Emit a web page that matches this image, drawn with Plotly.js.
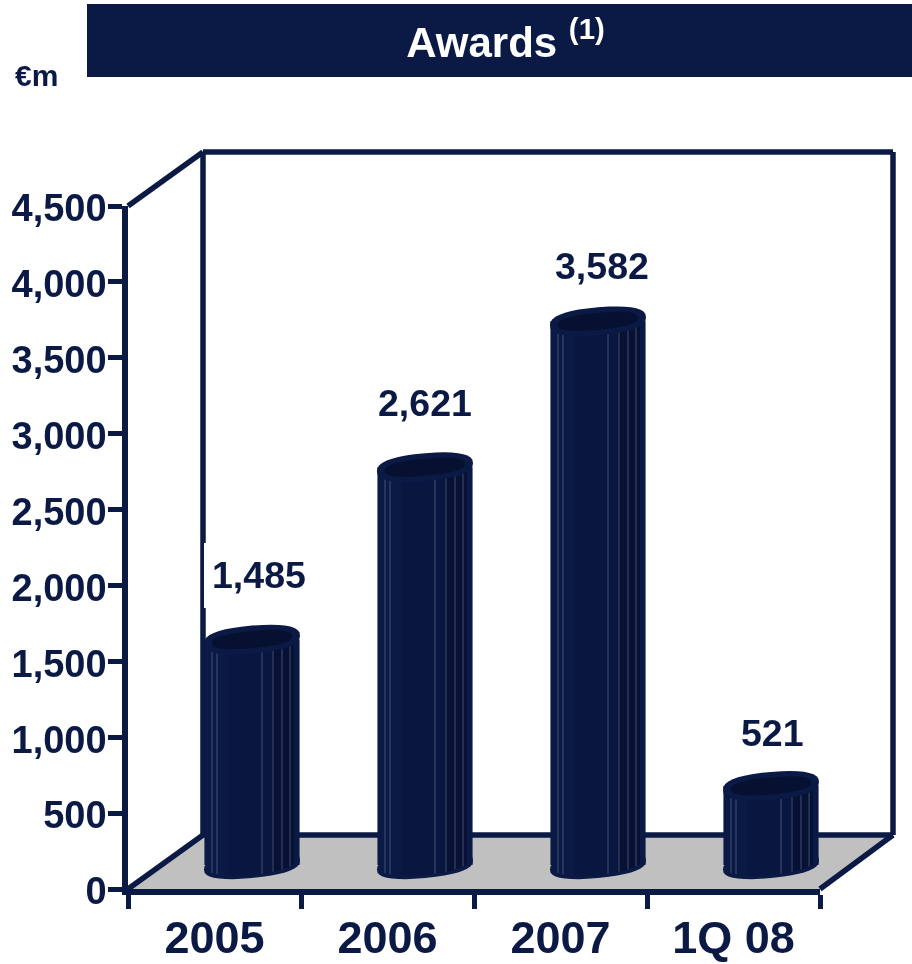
<!DOCTYPE html>
<html><head><meta charset="utf-8">
<script src="https://cdn.plot.ly/plotly-3.0.1.min.js"></script>
<style>html,body{margin:0;padding:0;background:#fff}</style></head>
<body><div id="chart" style="width:912px;height:964px"></div>
<script>
const categories = ["2005", "2006", "2007", "1Q 08"];
const awards = [1485, 2621, 3582, 521];
const valueLabels = ["1,485", "2,621", "3,582", "521"];
const yTicks = [0, 500, 1000, 1500, 2000, 2500, 3000, 3500, 4000, 4500];
const yTickLabels = ["0", "500", "1,000", "1,500", "2,000", "2,500", "3,000", "3,500", "4,000", "4,500"];
const labelShiftX = [7, 0, 4, 1];
const labelShiftY = [65, 64, 55, 53];

const W = 912, H = 964, NAVY = "#0a1a45", DARK = "#061030", FONT = "Liberation Sans, Arial, sans-serif";
const fx = { l: 128, r: 820 }, fy = { b: 889, t: 206 };   // front plane
const bx = { l: 203, r: 893 }, by = { b: 835, t: 152 };   // back wall
const off = { x: 37.5, y: 24 };                            // depth of the cylinders
const LOW = -200;                                          // room under the cylinders for their round feet
const px = x => x / W, py = y => 1 - y / H;
const uX = (fx.r - fx.l) / categories.length, uY = (fy.b - fy.t) / 4500;
const idx = categories.map((_, i) => i);

function line(x0, y0, x1, y1) {
  return { type: "line", xref: "paper", yref: "paper", layer: "below", x0: px(x0), y0: py(y0), x1: px(x1), y1: py(y1),
    line: { color: NAVY, width: 5.5 } };
}
const shapes = [
  { type: "rect", xref: "paper", yref: "paper", layer: "below", x0: px(87), x1: 1, y0: py(77), y1: py(4), fillcolor: NAVY, line: { width: 0 } },
  { type: "path", xref: "paper", yref: "paper", layer: "below", fillcolor: "#c0c0c0", line: { width: 0 },
    path: `M${px(fx.l)},${py(fy.b)} L${px(bx.l)},${py(by.b)} L${px(bx.r)},${py(by.b)} L${px(fx.r)},${py(fy.b)} Z` },
  line(bx.l, by.t, bx.l, by.b), line(bx.l, by.t, bx.r, by.t), line(bx.r, by.t, bx.r, by.b), line(bx.l, by.b, bx.r, by.b),
  line(fx.l, fy.t, bx.l, by.t), line(fx.l, fy.b, bx.l, by.b), line(fx.r, fy.b, bx.r, by.b),
  { type: "rect", xref: "paper", yref: "paper", layer: "below", x0: px(204), x1: px(207), y0: py(608), y1: py(543), fillcolor: "#fff", line: { width: 0 } }
];

// cap outlines are built in data units from each bar's own category and value
const round = (c, e) => Math.sign(c) * Math.pow(Math.abs(c), e);
function ellipse(i, v, a, b, tilt) {
  let s = "";
  for (let k = 0; k < 36; k++) {
    const t = 2 * Math.PI * k / 36, c = round(Math.cos(t), 0.85), n = round(Math.sin(t), 0.8);
    const dx = a * c, dy = b * n - tilt * c;
    s += (k ? "L" : "M") + (i + dx / uX) + "," + (v - dy / uY) + " ";
  }
  return s + "Z";
}
function edgeY(d, a, b, tilt) {             // lower edge of the cap at offset d
  const c = Math.max(-1, Math.min(1, d / a));
  return Math.pow(1 - c * c, 0.5) * b - tilt * c;
}
function band(i, v, d0, d1) {
  let s = "", n = 8;
  for (let k = 0; k <= n; k++) { const d = d0 + (d1 - d0) * k / n;
    s += (k ? "L" : "M") + (i + d / uX) + "," + (v - (edgeY(d, 48, 14, 4.5) - 3) / uY) + " "; }
  for (let k = n; k >= 0; k--) { const d = d0 + (d1 - d0) * k / n;
    s += "L" + (i + d / uX) + "," + (0 - (edgeY(d, 48, 13, 4.5) - 3) / uY) + " "; }
  return s + "Z";
}
const stripes = [-40, -35, 10, 21, 30, 38];
idx.forEach(i => {
  const v = awards[i];
  const shape = (path, fill) => ({ type: "path", xref: "x2", yref: "y2", layer: "above", path, fillcolor: fill, line: { width: 0 } });
  shapes.push(shape(ellipse(i, 0, 48, 13, 4.5), NAVY));
  shapes.push(shape(band(i, v, -24, 42), "rgba(3,10,40,0.20)"));
  shapes.push(shape(band(i, v, 20, 42), "rgba(2,6,25,0.28)"));
  stripes.forEach(d => {
    const x = i + d / uX;
    shapes.push({ type: "line", xref: "x2", yref: "y2", layer: "above", x0: x, x1: x,
      y0: v - (edgeY(d, 48, 14, 4.5) - 2) / uY, y1: -(edgeY(d, 48, 13, 4.5) - 3) / uY,
      line: { color: "rgba(150,160,190,0.42)", width: 1 } });
  });
  shapes.push(shape(ellipse(i, v, 48, 14, 4), NAVY));
  shapes.push(shape(ellipse(i, v, 40, 8.5, 3.5), DARK));
});

const annotations = idx.map(i => ({
  x: i, y: awards[i], xref: "x2", yref: "y2", text: valueLabels[i], showarrow: false,
  xshift: labelShiftX[i], yshift: labelShiftY[i], font: { family: FONT, size: 37.5, color: NAVY, weight: 700 }
}));
annotations.push({ xref: "paper", yref: "paper", x: px(13), y: py(76), xanchor: "left", yanchor: "middle", showarrow: false,
  text: "€m", font: { family: FONT, size: 30, color: NAVY, weight: 700 } });

const traces = [
  { type: "scatter", mode: "markers", x: categories, y: awards, xaxis: "x", yaxis: "y", opacity: 0, hoverinfo: "skip", showlegend: false },
  { type: "bar", x: idx, y: awards, xaxis: "x2", yaxis: "y2", marker: { color: NAVY, line: { width: 0 } }, hoverinfo: "skip", showlegend: false }
];
const layout = {
  width: W, height: H, margin: { l: 0, r: 0, t: 0, b: 0 }, paper_bgcolor: "#fff", plot_bgcolor: "rgba(0,0,0,0)",
  showlegend: false, bargap: 0.45,
  title: { text: "Awards <sup>(1)</sup>", x: px(505.5), xanchor: "center", y: py(42), yanchor: "middle",
    font: { family: FONT, size: 42, color: "#fff", weight: 700 } },
  xaxis: { domain: [px(fx.l), px(fx.r)], type: "category", categoryarray: categories, tickson: "boundaries", range: [-0.5, 3.5],
    anchor: "y", showgrid: false, zeroline: false, showline: true, linecolor: NAVY, linewidth: 5.5,
    ticks: "outside", ticklen: 14, tickwidth: 5, tickcolor: NAVY, tickangle: 0, ticklabelstandoff: 4,
    tickfont: { family: FONT, size: 45, color: NAVY, weight: 700 } },
  yaxis: { domain: [py(fy.b), py(fy.t)], range: [0, 4500], anchor: "x", tickvals: yTicks, ticktext: yTickLabels,
    showgrid: false, zeroline: false, showline: true, linecolor: NAVY, linewidth: 5.5,
    ticks: "outside", ticklen: 14, tickwidth: 5, tickcolor: NAVY, ticklabelstandoff: -6, ticklabelshift: 2,
    tickfont: { family: FONT, size: 38, color: NAVY, weight: 700 } },
  xaxis2: { domain: [px(fx.l + off.x), px(fx.r + off.x)], range: [-0.5, 3.5], visible: false, showticklabels: false, anchor: "y2" },
  yaxis2: { domain: [py(fy.b - off.y - LOW * uY), py(fy.t - off.y)], range: [LOW, 4500], visible: false, showticklabels: false, anchor: "x2" },
  shapes, annotations
};
Plotly.newPlot("chart", traces, layout, { displayModeBar: false, responsive: false });
</script></body></html>
